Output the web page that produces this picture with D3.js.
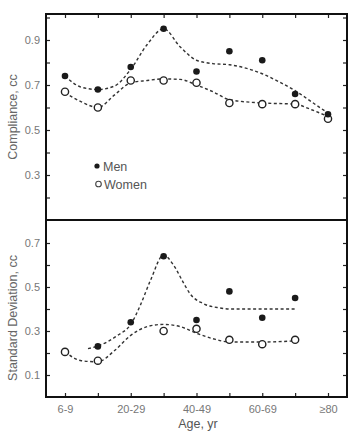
<!DOCTYPE html>
<html>
<head>
<meta charset="utf-8">
<script src="https://cdn.jsdelivr.net/npm/d3@7"></script>
<style>
  body { margin: 0; background: #fff; }
  svg { display: block; font-family: "Liberation Sans", Arial, sans-serif; }
  .tick text { fill: #777; font-size: 11px; }
  .tick line { stroke: #222; stroke-width: 1.2; }
  .domain { display: none; }
</style>
</head>
<body>
<svg width="351" height="435"></svg>
<script>
var width = 351, height = 435

// age groups (one per tick), only every other one is labelled
var ageGroups = ['6-9', '10-19', '20-29', '30-39', '40-49', '50-59', '60-69', '70-79', '≥80']
var ageLabels = ['6-9', '', '20-29', '', '40-49', '', '60-69', '', '≥80']

// compliance, cc
var complianceMen = [0.74, 0.68, 0.78, 0.95, 0.76, 0.85, 0.81, 0.66, 0.57]
var complianceWomen = [0.67, 0.60, 0.72, 0.72, 0.71, 0.62, 0.615, 0.615, 0.55]

// standard deviation, cc
var sdMen = [null, 0.23, 0.34, 0.64, 0.35, 0.48, 0.36, 0.45, null]
var sdWomen = [0.205, 0.165, null, 0.30, 0.31, 0.26, 0.24, 0.26, null]

// hand drawn fit lines, [age group index, value]
var complianceMenFit = [[0, 0.74], [0.5, 0.69], [1, 0.68], [1.5, 0.695], [2, 0.77], [2.5, 0.88], [3, 0.95],
  [3.5, 0.87], [4, 0.81], [4.5, 0.795], [5, 0.79], [5.5, 0.775], [6, 0.75], [6.5, 0.715], [7, 0.675], [7.5, 0.625], [8, 0.575]]
var complianceWomenFit = [[0, 0.665], [0.5, 0.625], [1, 0.60], [1.5, 0.655], [2, 0.71], [2.5, 0.72], [3, 0.727],
  [3.5, 0.725], [4, 0.70], [4.5, 0.67], [5, 0.635], [6, 0.62], [7, 0.615], [7.5, 0.59], [8, 0.56]]
var sdMenFit = [[0.7, 0.22], [1, 0.232], [1.6, 0.28], [2, 0.33], [2.3, 0.42], [2.6, 0.53], [3, 0.645],
  [3.3, 0.6], [3.6, 0.52], [3.8, 0.47], [4.2, 0.425], [4.7, 0.405], [5, 0.40], [6, 0.40], [7, 0.40]]
var sdWomenFit = [[0, 0.205], [0.5, 0.165], [1, 0.16], [1.5, 0.21], [2, 0.28], [2.5, 0.32], [3, 0.33],
  [3.5, 0.32], [4, 0.29], [4.5, 0.265], [5, 0.25], [6, 0.25], [7, 0.255]]

var complianceTicks = [0.2, 0.3, 0.4, 0.5, 0.6, 0.7, 0.8, 0.9, 1.0]
var sdTicks = [0.1, 0.2, 0.3, 0.4, 0.5, 0.6, 0.7]
var labelled = ['0.1', '0.3', '0.5', '0.7', '0.9']

// frame edges (note: "top" is taken by window.top)
var frameLeft = 46, frameRight = 347, frameTop = 14, frameMid = 220, frameBottom = 397

var svg = d3.select('svg')

var x = d3.scaleLinear().domain([0, 8]).range([65, 328])
var yTop = d3.scaleLinear().domain([0.3, 0.9]).range([175, 40])
var yBot = d3.scaleLinear().domain([0.1, 0.7]).range([375, 243])

function fmt(d) {
  var s = d.toFixed(1)
  return labelled.indexOf(s) >= 0 ? s : ''
}

function drawPanel(y, ticks, men, women, menFit, womenFit) {
  // inward ticks, left with labels, right without
  svg.append('g').attr('transform', 'translate(' + frameLeft + ',0)')
    .call(d3.axisLeft(y).tickValues(ticks).tickSize(-4).tickPadding(6).tickFormat(fmt))
  svg.append('g').attr('transform', 'translate(' + frameRight + ',0)')
    .call(d3.axisRight(y).tickValues(ticks).tickSize(-4).tickFormat(''))

  var line = d3.line()
    .x(function(d) { return x(d[0]) })
    .y(function(d) { return y(d[1]) })
    .curve(d3.curveMonotoneX)

  svg.append('path').datum(menFit).attr('d', line)
    .attr('fill', 'none').attr('stroke', '#333').attr('stroke-width', 1.4)
    .attr('stroke-dasharray', '3,2.5')
  svg.append('path').datum(womenFit).attr('d', line)
    .attr('fill', 'none').attr('stroke', '#333').attr('stroke-width', 1.4)
    .attr('stroke-dasharray', '3,2.5')

  var g = svg.append('g')
  g.selectAll('circle.w')
    .data(women.map(function(v, i) { return [i, v] }).filter(function(d) { return d[1] != null }))
    .enter().append('circle').attr('class', 'w')
    .attr('cx', function(d) { return x(d[0]) })
    .attr('cy', function(d) { return y(d[1]) })
    .attr('r', 3.6)
    .attr('fill', '#fff').attr('stroke', '#222').attr('stroke-width', 1.4)
  g.selectAll('circle.m')
    .data(men.map(function(v, i) { return [i, v] }).filter(function(d) { return d[1] != null }))
    .enter().append('circle').attr('class', 'm')
    .attr('cx', function(d) { return x(d[0]) })
    .attr('cy', function(d) { return y(d[1]) })
    .attr('r', 3.3)
    .attr('fill', '#1a1a1a')
}

drawPanel(yTop, complianceTicks, complianceMen, complianceWomen, complianceMenFit, complianceWomenFit)
drawPanel(yBot, sdTicks, sdMen, sdWomen, sdMenFit, sdWomenFit)

// x ticks: inward on the bottom and on the top of the upper panel
var xIdx = d3.range(ageGroups.length)
svg.append('g').attr('transform', 'translate(0,' + frameBottom + ')')
  .call(d3.axisBottom(x).tickValues(xIdx).tickSize(-4).tickPadding(8)
    .tickFormat(function(i) { return ageLabels[i] }))
svg.append('g').attr('transform', 'translate(0,' + frameTop + ')')
  .call(d3.axisTop(x).tickValues(xIdx).tickSize(-4).tickFormat(''))

// frame
svg.append('rect').attr('x', frameLeft).attr('y', frameTop)
  .attr('width', frameRight - frameLeft).attr('height', frameBottom - frameTop)
  .attr('fill', 'none').attr('stroke', '#111').attr('stroke-width', 2)
svg.append('line').attr('x1', frameLeft).attr('x2', frameRight).attr('y1', frameMid).attr('y2', frameMid)
  .attr('stroke', '#111').attr('stroke-width', 2)

// legend
svg.append('circle').attr('cx', 97).attr('cy', 166).attr('r', 2.6).attr('fill', '#1a1a1a')
svg.append('text').attr('x', 103).attr('y', 170.5).text('Men')
  .attr('font-size', 12.5).attr('fill', '#555')
svg.append('circle').attr('cx', 98.5).attr('cy', 184).attr('r', 2.8)
  .attr('fill', '#fff').attr('stroke', '#444').attr('stroke-width', 1.1)
svg.append('text').attr('x', 104).attr('y', 188.5).text('Women')
  .attr('font-size', 12.5).attr('fill', '#555')

// axis titles
svg.append('text').attr('transform', 'translate(17,117) rotate(-90)')
  .attr('text-anchor', 'middle').attr('font-size', 12.5).attr('fill', '#666')
  .text('Compliance, cc')
svg.append('text').attr('transform', 'translate(17,318) rotate(-90)')
  .attr('text-anchor', 'middle').attr('font-size', 12.5).attr('fill', '#666')
  .text('Standard Deviation, cc')
svg.append('text').attr('x', 198).attr('y', 428)
  .attr('text-anchor', 'middle').attr('font-size', 12.5).attr('fill', '#555')
  .text('Age, yr')
</script>
</body>
</html>
